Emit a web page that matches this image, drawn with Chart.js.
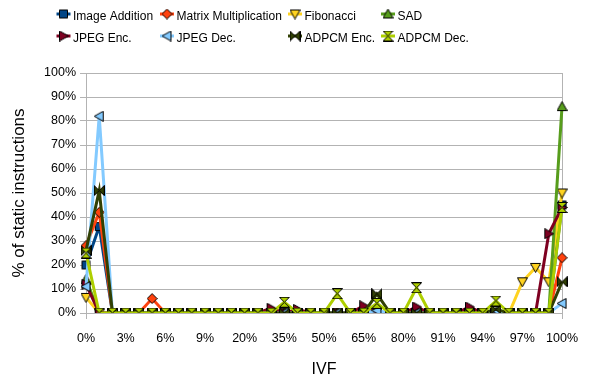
<!DOCTYPE html>
<html>
<head>
<meta charset="utf-8">
<script src="https://cdn.jsdelivr.net/npm/chart.js@4"></script>
<style>
  html, body { margin: 0; padding: 0; background: #fff; }
  .chart-container { width: 590px; height: 381px; position: relative; }
</style>
</head>
<body>
<div class="chart-container"><canvas id="chart"></canvas></div>
<script>
const ivfLabels = ['0%', '1%', '2%', '3%', '4%', '5%', '6%', '7%', '8%', '9%',
  '10%', '15%', '20%', '25%', '30%', '35%', '40%', '45%', '50%', '55%',
  '60%', '65%', '70%', '75%', '80%', '85%', '90%', '91%', '92%', '93%',
  '94%', '95%', '96%', '97%', '98%', '99%', '100%'];

const imageAddition = [20, 36, 0, 0, 0, 0, 0, 0, 0, 0,
  0, 0, 0, 0, 0, 0, 0, 0, 0, 0,
  0, 0, 0, 0, 0, 0, 0, 0, 0, 0,
  0, 0, 0, 0, 0, 0, 45];
const matrixMult = [28, 42, 0, 0, 0, 6, 0, 0, 0, 0,
  0, 0, 0, 0, 0, 0, 0, 0, 0, 0,
  0, 0, 0, 0, 0, 0, 0, 0, 0, 0,
  0, 0, 0, 0, 0, 0, 23];
const fibonacci = [6.5, 0, 0, 0, 0, 0, 0, 0, 0, 0,
  0, 0, 0, 0, 0, 0, 0, 0, 0, 0,
  0, 0, 0, 0, 0, 0, 0, 0, 0, 0,
  0, 0, 0, 13, 19, 13, 50];
const sad = [14, 0, 0, 0, 0, 0, 0, 0, 0, 0,
  0, 0, 0, 0, 0, 0, 0, 0, 0, 0,
  0, 0, 0, 0, 0, 0, 0, 0, 0, 0,
  0, 0, 0, 0, 0, 0, 86];
const jpegEnc = [12, 0, 0, 0, 0, 0, 0, 0, 0, 0,
  0, 0, 0, 0, 2, 0, 1.5, 0, 0, 0,
  0, 3, 0, 0, 0, 2.5, 0, 0, 0, 2.5,
  0, 0, 0, 0, 0, 33, 44];
const jpegDec = [11, 82, 0, 0, 0, 0, 0, 0, 0, 0,
  0, 0, 0, 0, 0, 0, 0, 0, 0, 0,
  0, 0, 1, 0, 0, 0, 0, 0, 0, 0,
  0, 1, 0, 0, 0, 0, 4];
const adpcmEnc = [26, 51, 0, 0, 0, 0, 0, 0, 0, 0,
  0, 0, 0, 0, 0, 0, 0, 0, 0, 0,
  0, 0, 8, 0, 0, 0, 0, 0, 0, 0,
  0, 1.5, 0, 0, 0, 0, 13];
const adpcmDec = [25, 0, 0, 0, 0, 0, 0, 0, 0, 0,
  0, 0, 0, 0, 0, 4.5, 0, 0, 0, 8,
  0, 0, 4, 0, 0, 10.5, 0, 0, 0, 0,
  0, 5, 0, 0, 0, 0, 44];

const seriesNames = ['Image Addition', 'Matrix Multiplication', 'Fibonacci', 'SAD',
  'JPEG Enc.', 'JPEG Dec.', 'ADPCM Enc.', 'ADPCM Dec.'];
const seriesData = [imageAddition, matrixMult, fibonacci, sad, jpegEnc, jpegDec, adpcmEnc, adpcmDec];
const seriesColors = ['#004586', '#ff420e', '#ffd320', '#579d1c', '#7e0021', '#83caff', '#314004', '#aecf00'];
const seriesShapes = ['square', 'diamond', 'down', 'up', 'right', 'left', 'bowtie', 'hourglass'];

const FONT = '"Liberation Sans", Arial, sans-serif';

// marker symbols with a thin black outline
const shapes = {
  square: [[[1.5, 1.5], [9.5, 1.5], [9.5, 9.5], [1.5, 9.5]]],
  diamond: [[[5.5, 0.5], [10.5, 5.5], [5.5, 10.5], [0.5, 5.5]]],
  down: [[[0.5, 1.5], [10.5, 1.5], [5.5, 10.5]]],
  up: [[[5.5, 0.5], [10.5, 9.5], [0.5, 9.5]]],
  right: [[[1.5, 0.5], [10.5, 5.5], [1.5, 10.5]]],
  left: [[[9.5, 0.5], [0.5, 5.5], [9.5, 10.5]]],
  bowtie: [[[0.5, 0.5], [5.5, 5.5], [0.5, 10.5]], [[10.5, 0.5], [5.5, 5.5], [10.5, 10.5]]],
  hourglass: [[[0.5, 0.5], [10.5, 0.5], [5.5, 5.5]], [[0.5, 10.5], [10.5, 10.5], [5.5, 5.5]]]
};

function makeMarker(shape, color) {
  const c = document.createElement('canvas');
  c.width = 11;
  c.height = 11;
  const g = c.getContext('2d');
  g.fillStyle = color;
  g.strokeStyle = '#000';
  g.lineWidth = 1;
  g.lineJoin = 'miter';
  shapes[shape].forEach(poly => {
    g.beginPath();
    poly.forEach(([x, y], i) => i ? g.lineTo(x, y) : g.moveTo(x, y));
    g.closePath();
    g.fill();
    g.stroke();
  });
  return c;
}

const markers = seriesShapes.map((s, i) => makeMarker(s, seriesColors[i]));

// legend in fixed columns, two rows, like the original
const legendCols = [63.5, 167, 295, 388];
const legendRows = [14, 36];

const gridLegend = {
  id: 'gridLegend',
  afterDraw(chart) {
    const ctx = chart.ctx;
    ctx.save();
    seriesNames.forEach((name, i) => {
      const cx = legendCols[i % 4];
      const cy = legendRows[Math.floor(i / 4)];
      ctx.strokeStyle = seriesColors[i];
      ctx.lineWidth = 3;
      ctx.beginPath();
      ctx.moveTo(cx - 7, cy);
      ctx.lineTo(cx + 7, cy);
      ctx.stroke();
      ctx.drawImage(markers[i], cx - 5.5, cy - 5.5);
      ctx.fillStyle = '#000';
      ctx.font = '12px ' + FONT;
      ctx.textBaseline = 'alphabetic';
      ctx.textAlign = 'left';
      ctx.fillText(name, cx + 9.5, cy + 6);
    });
    ctx.restore();
  }
};

const gridColor = '#b3b3b3';
const lastIndex = ivfLabels.length - 1;

new Chart(document.getElementById('chart').getContext('2d'), {
  type: 'line',
  data: {
    labels: ivfLabels,
    datasets: seriesData.map((values, i) => ({
      label: seriesNames[i],
      data: values,
      borderColor: seriesColors[i],
      backgroundColor: seriesColors[i],
      borderWidth: 3,
      fill: false,
      tension: 0,
      pointStyle: markers[i],
      pointRadius: 5,
      pointHoverRadius: 5,
      order: seriesData.length - i
    }))
  },
  options: {
    responsive: true,
    maintainAspectRatio: false,
    animation: false,
    devicePixelRatio: 1,
    layout: {
      padding: { top: 73, left: 2, right: 27, bottom: 0 }
    },
    scales: {
      x: {
        offset: false,
        grid: {
          color: c => (c.index === 0 || c.index === lastIndex) ? gridColor : 'rgba(0,0,0,0)',
          tickLength: 6
        },
        border: { color: gridColor },
        ticks: {
          autoSkip: false,
          maxRotation: 0,
          minRotation: 0,
          padding: 12,
          color: '#000',
          font: { family: FONT, size: 12.5 },
          callback: (v, i) => i % 3 === 0 ? ivfLabels[i] : ''
        },
        title: {
          display: true,
          text: 'IVF',
          color: '#000',
          font: { family: FONT, size: 16 },
          padding: { top: 4, bottom: 2 }
        },
        afterFit: scale => { scale.height = 68; }
      },
      y: {
        min: 0,
        max: 100,
        grid: { color: gridColor, tickLength: 6 },
        border: { color: gridColor },
        ticks: {
          stepSize: 10,
          padding: 4,
          color: '#000',
          font: { family: FONT, size: 12.5 },
          callback: v => v + '%'
        },
        title: {
          display: true,
          text: '% of static instructions',
          color: '#000',
          font: { family: FONT, size: 17 },
          padding: { top: 7, bottom: 4 }
        },
        afterFit: scale => { scale.width = 84; }
      }
    },
    plugins: {
      legend: { display: false },
      tooltip: { enabled: false }
    }
  },
  plugins: [gridLegend]
});
</script>
</body>
</html>
